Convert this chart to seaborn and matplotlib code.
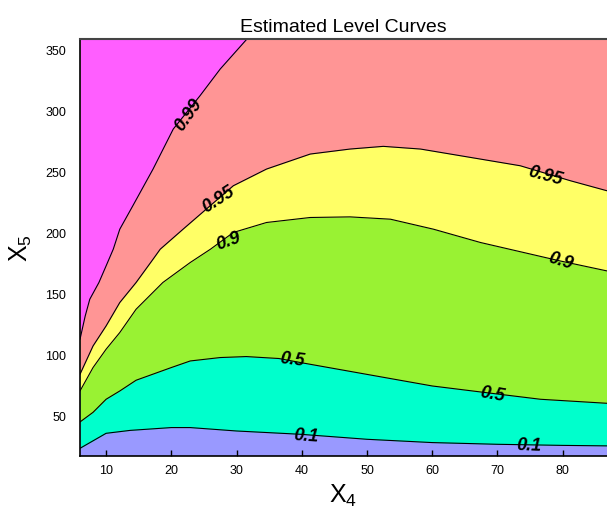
import numpy as np
import matplotlib
matplotlib.use("Agg")
import matplotlib.pyplot as plt
import seaborn as sns

sns.set_theme(style="white")
plt.rcParams['font.family'] = ['Liberation Sans', 'DejaVu Sans']
plt.rcParams['text.color'] = 'black'
plt.rcParams['axes.labelcolor'] = 'black'
plt.rcParams['xtick.color'] = 'black'
plt.rcParams['ytick.color'] = 'black'

# Level-curve boundaries (x = X4, y = X5)
c01_x = [6.0, 10.0, 13.7, 20.0, 22.9, 30.0, 39.8, 50.0, 60.0, 70.0, 80.0, 86.8]
c01_y = [22.7, 35.0, 37.4, 39.7, 39.7, 36.9, 34.2, 30.1, 27.4, 26.0, 25.1, 24.7]

c05_x = [6.0, 8.0, 10.0, 12.1, 14.6, 20.0, 22.9, 27.5, 31.5, 36.5, 39.8, 50.0, 60.0, 67.4, 76.6, 86.8]
c05_y = [44.3, 52.2, 62.9, 69.7, 78.5, 88.9, 94.3, 97.1, 97.9, 96.3, 93.0, 83.3, 73.8, 68.9, 62.9, 59.6]

c09_x = [6.0, 8.0, 10.0, 12.1, 14.6, 18.7, 22.9, 26.0, 29.5, 34.6, 41.3, 47.4, 53.6, 60.2, 67.4, 79.6, 86.8]
c09_y = [69.7, 88.9, 103.9, 117.6, 136.7, 158.6, 175.0, 185.9, 199.6, 207.8, 211.9, 212.4, 210.5, 202.3, 191.4, 176.3, 168.1]

c095_x = [6.0, 8.0, 10.0, 12.1, 14.6, 17.2, 18.3, 21.8, 29.5, 34.6, 41.3, 47.4, 52.5, 58.2, 65.8, 73.5, 81.2, 86.8]
c095_y = [83.4, 106.6, 123.0, 142.2, 158.6, 177.7, 185.9, 202.3, 237.9, 251.6, 263.9, 268.0, 270.2, 268.0, 261.2, 254.3, 242.0, 233.8]

c099_x = [6.0, 6.8, 7.5, 8.9, 10.0, 11.1, 12.1, 14.1, 17.2, 20.3, 24.4, 27.5, 31.6]
c099_y = [112.1, 131.2, 144.9, 158.6, 172.2, 185.9, 202.3, 221.5, 251.6, 284.4, 311.7, 333.6, 358.2]

levels = ["0.1", "0.5", "0.9", "0.95", "0.99"]
band_colors = ["#9999FF", "#00FFCC", "#99F233", "#FFFF66", "#FF9595", "#FF5EFF"]

xticks = [10, 20, 30, 40, 50, 60, 70, 80]
yticks = [50, 100, 150, 200, 250, 300, 350]

# label positions (x, y, rotation) per level
label_pos = {
    "0.1": [(40.7, 33.0, -4), (74.9, 25.1, -2)],
    "0.5": [(38.5, 96.0, -7), (69.2, 67.5, -10)],
    "0.9": [(28.7, 193.0, 20), (79.6, 177.0, -17)],
    "0.95": [(27.3, 227.0, 33), (77.3, 246.5, -15)],
    "0.99": [(22.6, 297.0, 55)],
}

XMIN, XMAX, YMIN, YMAX = 6.0, 86.8, 16.4, 358.2

fig = plt.figure(figsize=(6.07, 5.10), dpi=100)
ax = fig.add_axes([80 / 607, 53 / 510, 1 - 80 / 607, (457 - 40) / 510])
ax.set_facecolor(band_colors[0])

curves = [(c01_x, c01_y), (c05_x, c05_y), (c09_x, c09_y), (c095_x, c095_y), (c099_x, c099_y)]
for i, (cx, cy) in enumerate(curves):
    ax.fill_between(cx, cy, YMAX, color=band_colors[i + 1], lw=0, zorder=1 + i)

for cx, cy in curves:
    sns.lineplot(x=cx, y=cy, sort=False, estimator=None, color="black", lw=0.8, ax=ax, zorder=10)

for lev in levels:
    for (lx, ly, rot) in label_pos[lev]:
        ax.text(lx, ly, lev, rotation=rot, rotation_mode="anchor", ha="center", va="center",
                fontsize=13, fontweight="bold", fontstyle="italic", color="black", zorder=12)

ax.set_xlim(XMIN, XMAX)
ax.set_ylim(YMIN, YMAX)
ax.set_xticks(xticks)
ax.set_yticks(yticks)
ax.set_xticklabels([str(t) for t in xticks], fontsize=9)
ax.set_yticklabels([str(t) for t in yticks], fontsize=9)
ax.tick_params(axis="x", direction="in", length=4, width=1, color="black", bottom=True, pad=6)
ax.tick_params(axis="y", left=False, pad=4)

for s in ["left", "bottom"]:
    ax.spines[s].set_color("black")
    ax.spines[s].set_linewidth(1.2)
ax.spines["top"].set_color("#444444")
ax.spines["top"].set_linewidth(1.5)
ax.spines["right"].set_visible(False)
for s in ax.spines.values():
    s.set_zorder(20)

ax.set_title("Estimated Level Curves", fontsize=14, pad=6, color="black")
ax.set_xlabel("$\\mathregular{X_4}$", fontsize=18, labelpad=4)
ax.set_ylabel("$\\mathregular{X_5}$", fontsize=18, labelpad=8)

fig.savefig("out.png", dpi=100)
